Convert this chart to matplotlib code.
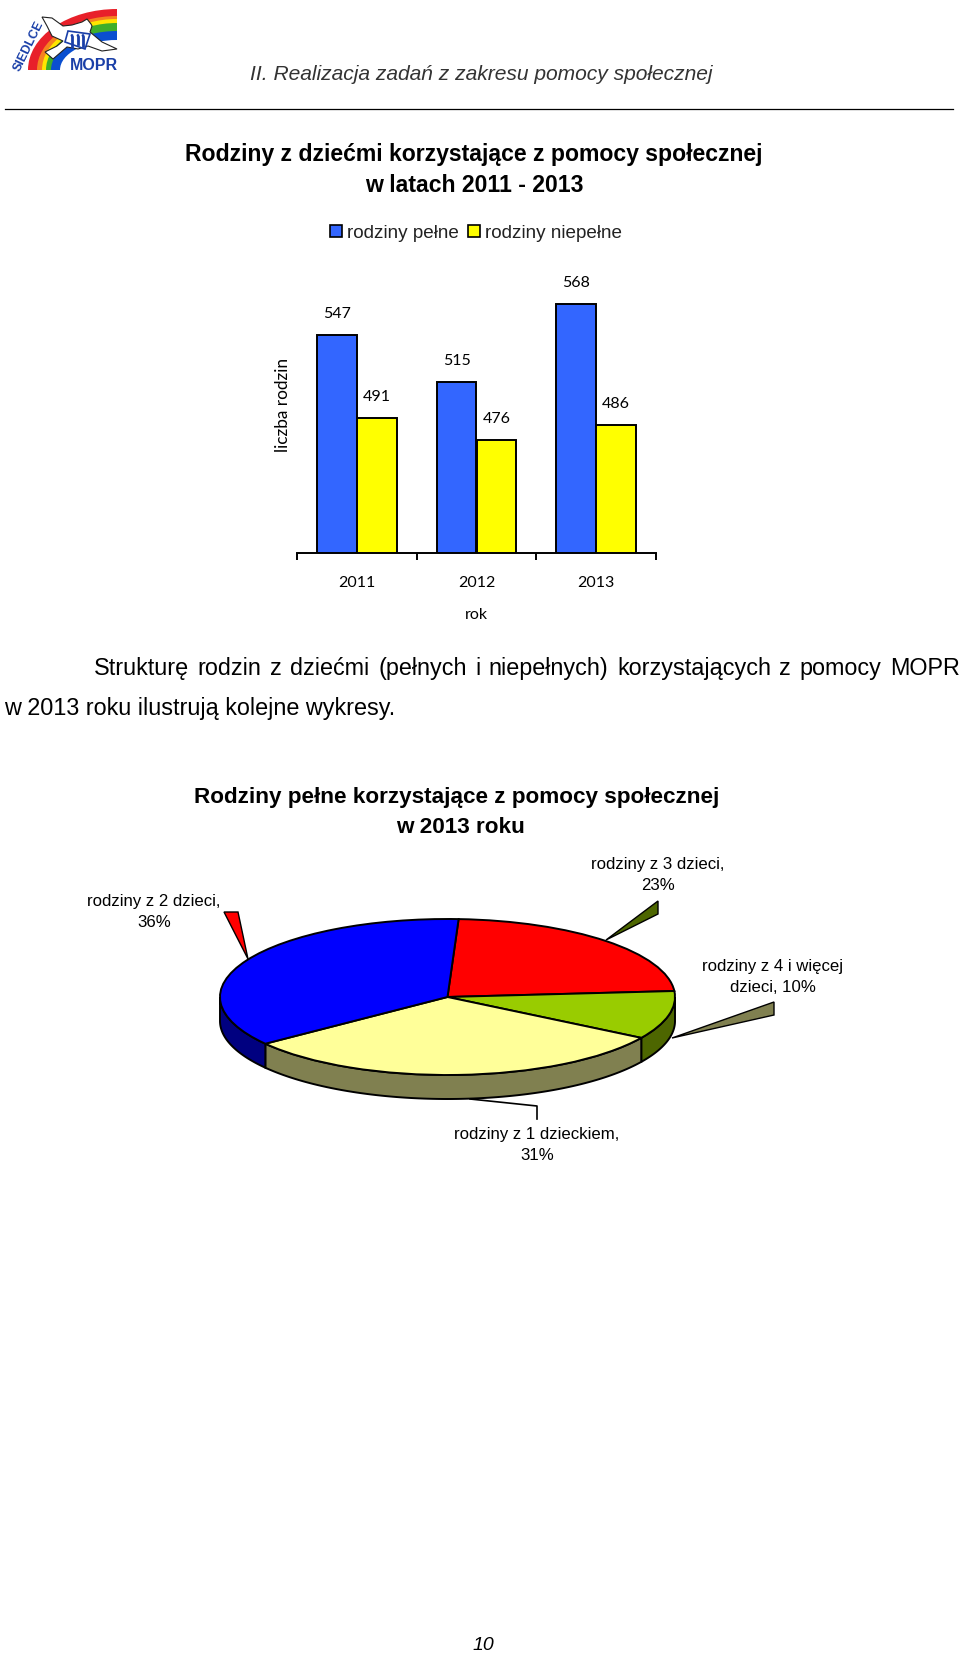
import matplotlib
matplotlib.use('Agg')
import matplotlib.pyplot as plt
from matplotlib.patches import Polygon, Wedge, Circle
from matplotlib.transforms import Affine2D
import numpy as np

W, H = 960, 1656

years = ['2011', '2012', '2013']
pelne = [547, 515, 568]
niepelne = [491, 476, 486]

pie_labels = ['rodziny z 3 dzieci,\n23%', 'rodziny z 4 i więcej\ndzieci, 10%',
              'rodziny z 1 dzieckiem,\n31%', 'rodziny z 2 dzieci,\n36%']
pie_values = [23, 10, 31, 36]
pie_top = ['#ff0000', '#99cc00', '#ffff99', '#0000ff']
pie_side = ['#800000', '#4d6600', '#808050', '#000080']

arial = 'Liberation Sans'
calibri = 'Lato'

fig = plt.figure(figsize=(W / 100, H / 100), dpi=100)


def axes_px(x0, y0, x1, y1):
    # rectangle in image pixels, y going down
    return fig.add_axes([x0 / W, 1 - y1 / H, (x1 - x0) / W, (y1 - y0) / H])


# page layer in pixel coordinates
bg = fig.add_axes([0, 0, 1, 1], zorder=0)
bg.set_xlim(0, W)
bg.set_ylim(H, 0)
bg.axis('off')


def txt(x, y, s, size, family=arial, **kw):
    kw.setdefault('ha', 'center')
    kw.setdefault('va', 'center')
    return bg.text(x, y, s, fontsize=size, family=family, **kw)


def justified(x0, x1, y, s, size):
    # word by word, the first paragraph line runs to the right margin
    words = s.split(' ')
    items = [txt(0, y, w, size, ha='left', va='baseline') for w in words]
    r = fig.canvas.get_renderer()
    widths = [t.get_window_extent(r).width for t in items]
    gap = (x1 - x0 - sum(widths)) / (len(words) - 1)
    pos = x0
    for t, wd in zip(items, widths):
        t.set_x(pos)
        pos += wd + gap


# logo
cx, cy = 117, 71
bands = [('#e8202a', 89, 61), ('#f58220', 80, 54), ('#ffe600', 75, 51), ('#3fae2a', 71, 47),
         ('#0a4fd0', 66, 39), ('white', 57, 30)]
for c, rx, ry in bands:
    bg.add_patch(Wedge((0, 0), 1, 90, 180, color=c, lw=0,
                       transform=Affine2D().scale(rx, -ry).translate(cx, cy) + bg.transData))
dove = [(42, 18), (52, 19), (63, 27), (72, 26), (82, 23), (87, 20), (91, 25), (92, 27), (90, 33), (102, 43),
        (117, 50), (102, 52), (88, 47), (78, 50), (67, 48), (53, 60), (45, 53), (57, 47), (63, 42), (52, 37),
        (47, 27)]
bg.add_patch(Polygon(dove, closed=True, fc='white', ec='#222222', lw=0.8))
bg.add_patch(Polygon([(68, 32), (90, 35), (85, 50), (65, 43)], closed=True, fc='white', ec='#1a3fa8', lw=1.2))
for px, h in [(72, 10), (78, 7), (83, 9)]:
    bg.plot([px, px], [38, 38 + h], color='#1a3fa8', lw=2)
    bg.add_patch(Circle((px, 36.5), 1.4, color='#1a3fa8', lw=0))
txt(94, 65, 'MOPR', 11.5, weight='bold', color='#1a3fa8')
txt(29, 46, 'SIEDLCE', 9, weight='bold', color='#1a3fa8', rotation=64)

# header
txt(481, 74, 'II. Realizacja zadań z zakresu pomocy społecznej', 15.1, style='italic', color='#333333')
bg.plot([5, 953], [110, 110], color='black', lw=0.9)

# first chart
txt(474, 155, 'Rodziny z dziećmi korzystające z pomocy społecznej', 16.6, weight='bold')
txt(474, 185, 'w latach 2011 - 2013', 16.6, weight='bold')

ax = axes_px(297, 257, 656, 554)
ax.patch.set_alpha(0)
x = np.arange(len(years))
w = 1 / 3
b1 = ax.bar(x - w / 2, pelne, w, color='#3366ff', edgecolor='black', lw=1.4, label='rodziny pełne')
b2 = ax.bar(x + w / 2, niepelne, w, color='#ffff00', edgecolor='black', lw=1.4, label='rodziny niepełne')
ax.set_xlim(-0.5, 2.5)
ax.set_ylim(400, 600)
for s in ['top', 'left', 'right']:
    ax.spines[s].set_visible(False)
ax.spines['bottom'].set_linewidth(1.4)
ax.set_yticks([])
ax.set_xticks([-0.5, 0.5, 1.5, 2.5])
ax.set_xticklabels([])
ax.tick_params(axis='x', length=5, width=1.4, direction='out')
for i, y in enumerate(years):
    ax.annotate(y, (i, 400), xytext=(0, -29), textcoords='offset pixels', ha='center', va='center',
                fontsize=11.5, family=calibri)
for i in range(3):
    ax.annotate(str(pelne[i]), (i - w / 2, pelne[i]), xytext=(0, 22), textcoords='offset pixels', ha='center',
                va='center', fontsize=11.5, family=calibri)
    ax.annotate(str(niepelne[i]), (i + w / 2, niepelne[i]), xytext=(0, 22), textcoords='offset pixels', ha='center',
                va='center', fontsize=11.5, family=calibri)
txt(476, 615, 'rok', 11.5, calibri)
txt(283, 405, 'liczba rodzin', 12.4, calibri, rotation=90)

# legend drawn as page items
for lx, col, s in [(330, '#3366ff', 'rodziny pełne'), (468, '#ffff00', 'rodziny niepełne')]:
    bg.add_patch(plt.Rectangle((lx, 226), 12, 12, fc=col, ec='black', lw=1.2))
    txt(lx + 17, 233, s, 13.6, ha='left', color='#222222')

# paragraph
justified(94, 960, 675, 'Strukturę rodzin z dziećmi (pełnych i niepełnych) korzystających z pomocy MOPR', 16.8)
txt(4, 715, 'w 2013 roku ilustrują kolejne wykresy.', 16.8, ha='left', va='baseline')

# second chart
txt(457, 798, 'Rodziny pełne korzystające z pomocy społecznej', 16.2, weight='bold')
txt(460, 828, 'w 2013 roku', 16.2, weight='bold')

# callout shapes from the pie to its labels
callouts = [
    ([(658, 902), (658, 915), (606, 941)], '#4d6600'),
    ([(774, 1003), (774, 1016), (672, 1039)], '#808050'),
    ([(224, 913), (238, 913), (248, 960)], '#ff0000'),
]
for pts, c in callouts:
    bg.add_patch(Polygon(pts, closed=True, fc=c, ec='black', lw=1))
bg.plot([470, 537, 537], [1100, 1107, 1120], color='black', lw=1.2)

txt(658, 875, pie_labels[0], 12.1, linespacing=1.55)
txt(773, 977, pie_labels[1], 12.1, linespacing=1.55)
txt(537, 1145, pie_labels[2], 12.1, linespacing=1.55)
txt(154, 912, pie_labels[3], 12.1, linespacing=1.55)

# pie: unit circle squeezed to the ellipse
rx, ry, depth = 227.5, 78.0, 24.0
pie_ax = axes_px(447.5 - rx, 998 - ry, 447.5 + rx, 998 + ry)
pie_ax.set_zorder(1)
start = 90 - 2.8
drop = depth / ry
fractions = np.array(pie_values) / sum(pie_values)
edges = start - 360 * np.concatenate([[0], np.cumsum(fractions)])
for i in range(len(pie_values)):
    a = np.linspace(edges[i], edges[i + 1], 200)
    a = a[np.sin(np.radians(a)) <= 0]
    if len(a) == 0:
        continue
    xs, ys = np.cos(np.radians(a)), np.sin(np.radians(a))
    poly = np.column_stack([np.r_[xs, xs[::-1]], np.r_[ys, ys[::-1] - drop]])
    pie_ax.add_patch(Polygon(poly, closed=True, fc=pie_side[i], ec='black', lw=1.4, clip_on=False))
wedges, _ = pie_ax.pie(pie_values, colors=pie_top, startangle=start, counterclock=False, radius=1,
                       wedgeprops=dict(edgecolor='black', linewidth=1.4, clip_on=False))
pie_ax.set_aspect('auto')
pie_ax.set_xlim(-1, 1)
pie_ax.set_ylim(-1, 1)
pie_ax.patch.set_alpha(0)

# page number
txt(483, 1646, '10', 14, style='italic')

fig.savefig('out.png', dpi=100)
